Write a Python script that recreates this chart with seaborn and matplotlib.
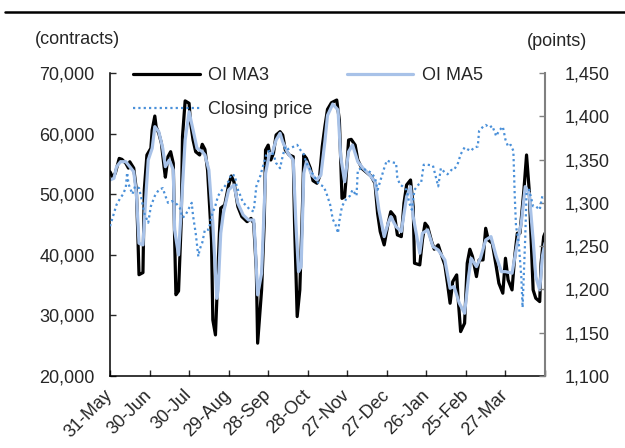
import matplotlib
matplotlib.use('Agg')
import matplotlib.pyplot as plt
from matplotlib.lines import Line2D
from matplotlib.ticker import FuncFormatter, MultipleLocator
import pandas as pd
import seaborn as sns

'''Data read off the chart (days counted from 31-May)'''
start = pd.Timestamp('2018-05-31')

ma3_day = [0, 2, 4, 7, 9, 12, 14, 15, 18, 20,
           21, 22, 25, 26, 28, 31, 32, 34, 35, 37,
           39, 41, 42, 44, 46, 48, 49, 50, 52, 54,
           55, 57, 60, 61, 63, 65, 68, 70, 72, 74,
           77, 78, 80, 83, 84, 87, 90, 92, 94, 97,
           100, 104, 107, 109, 111, 112, 115, 117, 118, 120,
           122, 124, 126, 129, 131, 133, 136, 139, 140, 142,
           144, 146, 147, 149, 152, 154, 157, 159, 161, 163,
           165, 168, 172, 174, 176, 178, 179, 181, 183, 186,
           188, 191, 194, 198, 201, 203, 205, 208, 211, 213,
           216, 218, 221, 223, 225, 228, 230, 231, 235, 237,
           239, 241, 244, 246, 249, 251, 254, 256, 258, 260,
           263, 264, 266, 269, 271, 273, 275, 278, 280, 283,
           285, 287, 290, 293, 295, 298, 300, 302, 305, 307,
           309, 311, 314, 316, 318, 321, 323, 326, 327, 329,
           330]
ma3_oi = [53700, 52800, 53450, 55900, 55750, 55100, 54300, 55350, 54300, 50700,
          44100, 36700, 37050, 50700, 56470, 57570, 60600, 62900, 61140, 60050,
          58400, 54540, 52800, 56200, 57010, 55100, 43000, 33400, 34000, 45200,
          59500, 65400, 65000, 62000, 58950, 57000, 56470, 58230, 57400, 54000,
          42450, 29240, 26760, 43550, 47700, 48200, 51500, 53000, 52060, 47940,
          46290, 45460, 46000, 45200, 37490, 25400, 34190, 45200, 57290, 58100,
          55640, 56750, 59770, 60320, 59770, 57290, 56470, 56190, 45200, 29790,
          34190, 47940, 56470, 55920, 54270, 52230, 51800, 52890, 57840, 61140,
          64000, 65100, 65540, 62240, 49300, 49590, 52340, 58940, 59050, 58100,
          55640, 54270, 53710, 53000, 51800, 46850, 43820, 41620, 45200, 47110,
          46290, 43270, 42990, 48500, 51520, 52340, 47940, 38600, 38320, 42440,
          45200, 44640, 42170, 40910, 41620, 40250, 38320, 35300, 31990, 35560,
          36670, 33090, 27310, 28690, 38600, 40910, 39700, 36390, 39140, 39140,
          44370, 42440, 41900, 38040, 35300, 33650, 39420, 35840, 34190, 39700,
          43550, 43550, 50700, 56470, 50700, 34190, 32820, 32260, 38600, 42990,
          43550]

ma5_day = [0, 3, 5, 8, 12, 15, 18, 20, 22, 25,
           27, 29, 32, 34, 37, 40, 42, 45, 48, 49,
           52, 54, 57, 60, 63, 66, 70, 72, 75, 78,
           81, 82, 84, 86, 90, 94, 97, 101, 105, 109,
           110, 112, 115, 118, 121, 123, 126, 129, 131, 135,
           139, 141, 143, 145, 147, 149, 153, 157, 160, 163,
           165, 169, 173, 175, 178, 181, 184, 188, 192, 197,
           201, 204, 208, 211, 213, 217, 221, 225, 228, 230,
           235, 237, 241, 245, 249, 254, 258, 261, 265, 269,
           272, 274, 278, 281, 285, 289, 293, 297, 300, 305,
           309, 312, 315, 318, 321, 323, 326, 328, 330]
ma5_oi = [52340, 52620, 54540, 55360, 55360, 54540, 53710, 50150, 41900, 41620,
          49040, 55640, 57570, 61140, 60320, 57570, 54540, 55640, 53990, 44100,
          39970, 47400, 58940, 63610, 60600, 57570, 57020, 56470, 53990, 45200,
          32800, 34190, 43550, 46850, 50700, 51520, 48500, 46570, 45740, 45740,
          42440, 33370, 36950, 53450, 56750, 56750, 58940, 60050, 58660, 56750,
          55640, 45200, 37210, 38040, 53450, 55360, 53170, 52340, 53170, 58660,
          63000, 64880, 63890, 56190, 52060, 57010, 58120, 55360, 54270, 53170,
          52060, 47400, 42990, 45200, 46290, 44640, 43820, 49590, 51240, 46290,
          40250, 43550, 44100, 41340, 40790, 39140, 34470, 34740, 31990, 30340,
          36390, 39420, 38040, 39420, 42440, 42990, 39700, 37210, 37210, 36950,
          41900, 45200, 51240, 50150, 42440, 36390, 34190, 39700, 41900]

close_day = [0, 3, 5, 8, 10, 12, 13, 14, 17, 19,
             22, 24, 26, 29, 31, 34, 37, 40, 42, 44,
             47, 51, 53, 55, 57, 60, 62, 63, 65, 67,
             68, 70, 72, 75, 77, 80, 82, 85, 87, 90,
             92, 95, 96, 99, 101, 104, 106, 109, 110, 111,
             114, 116, 119, 121, 124, 126, 129, 131, 133, 135,
             138, 142, 144, 147, 149, 152, 154, 157, 159, 162,
             164, 167, 169, 171, 173, 174, 176, 179, 182, 184,
             187, 188, 191, 194, 198, 201, 203, 205, 208, 210,
             213, 217, 218, 220, 222, 225, 227, 229, 231, 234,
             236, 238, 241, 245, 247, 249, 251, 254, 256, 259,
             261, 264, 266, 269, 271, 274, 276, 279, 280, 283,
             285, 288, 290, 293, 295, 298, 300, 302, 304, 306,
             307, 308, 310, 312, 313, 315, 316, 318, 321, 323,
             326, 328, 330]
close_px = [1273, 1288, 1298, 1306, 1310, 1318, 1335, 1322, 1310, 1319,
            1317, 1304, 1288, 1277, 1296, 1308, 1315, 1317, 1308, 1300,
            1302, 1298, 1294, 1283, 1285, 1294, 1300, 1285, 1265, 1238,
            1246, 1254, 1269, 1269, 1285, 1297, 1308, 1315, 1319, 1325,
            1333, 1331, 1319, 1308, 1300, 1296, 1292, 1290, 1304, 1319,
            1331, 1342, 1358, 1360, 1356, 1346, 1340, 1354, 1365, 1362,
            1364, 1367, 1362, 1356, 1346, 1338, 1333, 1325, 1321, 1319,
            1312, 1298, 1281, 1275, 1265, 1279, 1296, 1304, 1308, 1315,
            1308, 1338, 1340, 1338, 1335, 1329, 1315, 1325, 1340, 1349,
            1347, 1346, 1329, 1321, 1319, 1315, 1300, 1292, 1315, 1321,
            1323, 1344, 1344, 1343, 1331, 1319, 1340, 1335, 1333, 1338,
            1338, 1346, 1356, 1364, 1362, 1360, 1364, 1365, 1383, 1388,
            1390, 1387, 1389, 1377, 1383, 1388, 1373, 1365, 1367, 1360,
            1310, 1273, 1255, 1215, 1179, 1260, 1312, 1315, 1296, 1296,
            1292, 1308, 1305]

tick_labels = ['31-May', '30-Jun', '30-Jul', '29-Aug', '28-Sep', '28-Oct',
               '27-Nov', '27-Dec', '26-Jan', '25-Feb', '27-Mar', '']

df_ma3 = pd.DataFrame({'date': start + pd.to_timedelta(ma3_day, unit='D'), 'oi': ma3_oi})
df_ma5 = pd.DataFrame({'date': start + pd.to_timedelta(ma5_day, unit='D'), 'oi': ma5_oi})
df_px = pd.DataFrame({'date': start + pd.to_timedelta(close_day, unit='D'), 'close': close_px})

'''Figure and style'''
sns.set_style('white')
plt.rcParams['font.family'] = ['Liberation Sans', 'DejaVu Sans']
plt.rcParams['font.size'] = 13

fig = plt.figure(figsize=(6.25, 4.48), dpi=100)
ax = fig.add_axes([0.176, 0.161, 0.696, 0.676])
ax2 = ax.twinx()

sns.lineplot(data=df_ma3, x='date', y='oi', ax=ax, color='black', linewidth=2.3)
sns.lineplot(data=df_ma5, x='date', y='oi', ax=ax, color='#a8c2e8', linewidth=2.3)
sns.lineplot(data=df_px, x='date', y='close', ax=ax2, color='#4a90d9',
             linewidth=1.6, linestyle=(0, (1, 1.4)))

'''Axes'''
ax.set_xlim(start, start + pd.Timedelta(days=330))
ax.set_ylim(20000, 70000)
ax2.set_ylim(1100, 1450)
ax.yaxis.set_major_locator(MultipleLocator(10000))
ax2.yaxis.set_major_locator(MultipleLocator(50))
ax.yaxis.set_major_formatter(FuncFormatter(lambda v, p: f'{v:,.0f}'))
ax2.yaxis.set_major_formatter(FuncFormatter(lambda v, p: f'{v:,.0f}'))

xticks = [start + pd.Timedelta(days=30 * k) for k in range(len(tick_labels))]
ax.set_xticks(xticks)
ax.set_xticklabels(tick_labels, rotation=45, ha='right', va='center', rotation_mode='anchor')

for a in (ax, ax2):
    a.set_xlabel('')
    a.set_ylabel('')
    a.spines['top'].set_visible(False)
ax.spines['right'].set_visible(False)
ax2.spines['left'].set_visible(False)
ax2.spines['bottom'].set_visible(False)
for s in ('left', 'bottom'):
    ax.spines[s].set_color('black')
    ax.spines[s].set_linewidth(1.1)
ax2.spines['right'].set_color('#808080')
ax2.spines['right'].set_linewidth(1.5)

ax.tick_params(axis='y', direction='in', length=4, width=1, pad=11, labelsize=13, left=True)
ax.tick_params(axis='x', direction='in', length=4, width=1, pad=12, labelsize=13, bottom=True)
ax2.tick_params(axis='y', direction='in', length=4, width=1, pad=14, labelsize=13,
                right=True, color='#808080')

'''Legend, unit labels and top rule'''
h3 = Line2D([], [], color='black', linewidth=2.3)
h5 = Line2D([], [], color='#a8c2e8', linewidth=2.3)
hp = Line2D([], [], color='#4a90d9', linewidth=1.6, linestyle=(0, (1, 1.4)))
fig.legend(handles=[h3, hp, h5], labels=['OI MA3', 'Closing price', 'OI MA5'],
           ncol=2, loc='upper left', bbox_to_anchor=(133 / 625, 1 - 67 / 448),
           frameon=False, fontsize=13, handlelength=3.7, handletextpad=0.45,
           columnspacing=1.9, labelspacing=0.95, borderpad=0, borderaxespad=0)

fig.text(35 / 625, 1 - 39 / 448, '(contracts)', fontsize=13, va='center', ha='left')
fig.text(527 / 625, 1 - 41 / 448, '(points)', fontsize=13, va='center', ha='left')
fig.add_artist(Line2D([5 / 625, 1], [1 - 12 / 448, 1 - 12 / 448], color='black',
                      linewidth=1.8, transform=fig.transFigure))

fig.savefig('out.png', dpi=100)
